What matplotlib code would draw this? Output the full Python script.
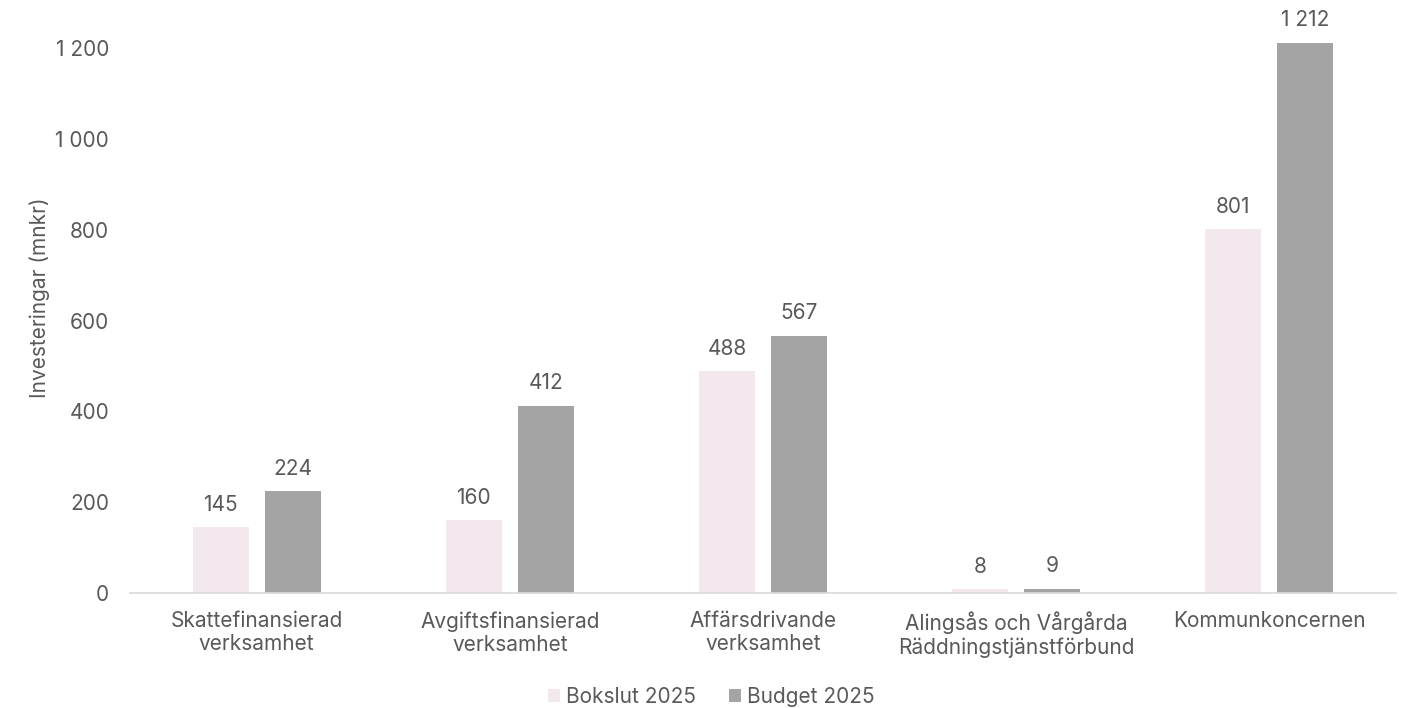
import matplotlib
matplotlib.use("Agg")
from matplotlib import pyplot as plt
from matplotlib.ticker import FuncFormatter
import numpy as np

plt.rcParams['font.family'] = ['Inter', 'DejaVu Sans']

categories = ['Skattefinansierad\nverksamhet', 'Avgiftsfinansierad\nverksamhet',
              'Affärsdrivande\nverksamhet', 'Alingsås och Vårgårda\nRäddningstjänstförbund',
              'Kommunkoncernen']
bokslut = [145, 160, 488, 8, 801]
budget = [224, 412, 567, 9, 1212]
yticks = [0, 200, 400, 600, 800, 1000, 1200]

txt = '#595959'
c_bok = '#F2E8EE'
c_bud = '#A5A4A5'
fs = 15

fig = plt.figure(figsize=(14.08, 7.08), dpi=100)
ax = fig.add_axes([0.0923, 0.1624, 0.8992, 0.8336])

x = np.arange(len(categories))
w = 0.221
off = 0.142
b1 = ax.bar(x - off, bokslut, w, color=c_bok, label='Bokslut 2025')
b2 = ax.bar(x + off, budget, w, color=c_bud, label='Budget 2025')

fmt = lambda v: format(int(v), ',').replace(',', ' ')
for bars, vals in ((b1, bokslut), (b2, budget)):
    for r, v in zip(bars, vals):
        ax.annotate(fmt(v), (r.get_x() + r.get_width() / 2, v), xytext=(0, 9),
                    textcoords='offset points', ha='center', va='bottom',
                    fontsize=fs, color=txt)

ax.set_xlim(-0.5, len(categories) - 0.5)
ax.set_ylim(0, 1300)
ax.set_yticks(yticks)
ax.yaxis.set_major_formatter(FuncFormatter(lambda v, p: fmt(v)))
ax.set_xticks(x)
ax.set_xticklabels(categories)
ax.tick_params(axis='both', length=0, labelsize=fs, labelcolor=txt)
ax.tick_params(axis='y', pad=15)
ax.tick_params(axis='x', pad=13)
for s in ['top', 'right', 'left']:
    ax.spines[s].set_visible(False)
ax.spines['bottom'].set_color('#D9D9D9')
ax.spines['bottom'].set_linewidth(1.2)
ax.set_ylabel('Investeringar (mnkr)', fontsize=fs, color=txt, labelpad=4)

fig.legend(loc='lower center', bbox_to_anchor=(0.505, -0.025), ncol=2, frameon=False,
           fontsize=fs, labelcolor=txt, handlelength=0.6, handleheight=0.6,
           handletextpad=0.25, columnspacing=1.6)

fig.savefig('out.png', dpi=100)
